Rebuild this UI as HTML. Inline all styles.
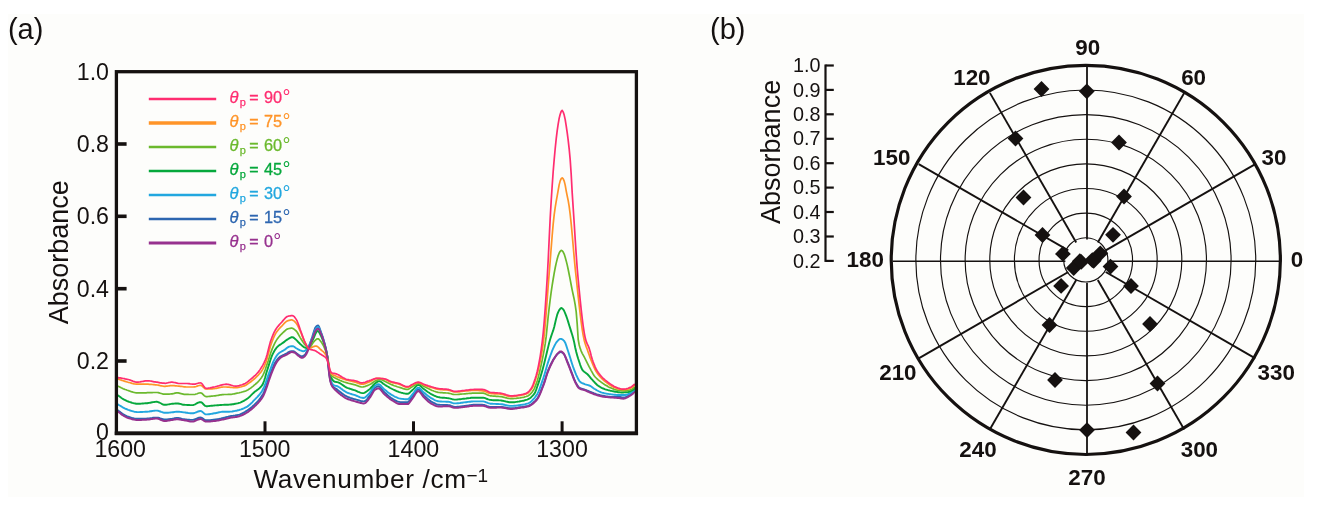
<!DOCTYPE html>
<html><head><meta charset="utf-8"><title>Figure</title>
<style>html,body{margin:0;padding:0;background:#fff;}svg{display:block;will-change:transform;}</style>
</head><body>
<svg width="1323" height="510" viewBox="0 0 1323 510" font-family="Liberation Sans, sans-serif">
<rect x="0" y="0" width="1323" height="510" fill="#ffffff"/>
<rect x="8" y="14" width="1296" height="483" fill="#fdfdfb"/>
<text x="7.9" y="39.0" font-size="29" fill="#151110">(a)</text>
<g fill="none" stroke-linejoin="round" stroke-linecap="round">
<path d="M118.2,410.6 L119.2,411.4 L120.2,412.1 L121.2,412.9 L122.2,413.6 L123.2,414.2 L124.2,414.8 L125.2,415.4 L126.2,415.8 L127.2,416.3 L128.2,416.6 L129.2,417.0 L130.2,417.3 L131.2,417.7 L132.2,418.0 L133.2,418.2 L134.2,418.5 L135.2,418.6 L136.2,418.8 L137.2,418.8 L138.2,418.8 L139.2,418.8 L140.2,418.8 L141.2,418.8 L142.2,418.7 L143.2,418.7 L144.2,418.7 L145.2,418.6 L146.2,418.6 L147.2,418.5 L148.2,418.5 L149.2,418.4 L150.2,418.2 L151.2,418.1 L152.2,418.0 L153.2,417.8 L154.2,417.7 L155.2,417.6 L156.2,417.6 L157.2,417.6 L158.2,417.8 L159.2,418.0 L160.2,418.4 L161.2,418.7 L162.2,419.0 L163.2,419.3 L164.2,419.5 L165.2,419.5 L166.2,419.5 L167.2,419.4 L168.2,419.3 L169.2,419.2 L170.2,419.0 L171.2,418.9 L172.2,418.8 L173.2,418.6 L174.2,418.3 L175.2,418.1 L176.2,417.9 L177.2,417.9 L178.2,417.9 L179.2,418.1 L180.2,418.3 L181.2,418.6 L182.2,418.9 L183.2,419.1 L184.2,419.2 L185.2,419.4 L186.2,419.5 L187.2,419.6 L188.2,419.7 L189.2,419.8 L190.2,419.9 L191.2,419.9 L192.2,419.9 L193.2,419.8 L194.2,419.6 L195.2,419.2 L196.2,418.8 L197.2,418.4 L198.2,418.0 L199.2,417.6 L200.2,417.5 L201.2,417.6 L202.2,418.1 L203.2,418.8 L204.2,419.6 L205.2,420.1 L206.2,420.3 L207.2,420.3 L208.2,420.3 L209.2,420.2 L210.2,420.1 L211.2,420.0 L212.2,419.9 L213.2,419.8 L214.2,419.7 L215.2,419.5 L216.2,419.4 L217.2,419.2 L218.2,419.1 L219.2,418.9 L220.2,418.7 L221.2,418.5 L222.2,418.2 L223.2,418.0 L224.2,417.8 L225.2,417.5 L226.2,417.2 L227.2,416.9 L228.2,416.7 L229.2,416.4 L230.2,416.2 L231.2,416.0 L232.2,415.9 L233.2,415.8 L234.2,415.6 L235.2,415.5 L236.2,415.3 L237.2,415.2 L238.2,414.9 L239.2,414.7 L240.2,414.4 L241.2,413.9 L242.2,413.5 L243.2,412.9 L244.2,412.4 L245.2,411.8 L246.2,411.1 L247.2,410.5 L248.2,409.9 L249.2,409.1 L250.2,408.4 L251.2,407.5 L252.2,406.7 L253.2,405.8 L254.2,404.9 L255.2,403.9 L256.2,402.9 L257.2,401.9 L258.2,400.8 L259.2,399.6 L260.2,398.3 L261.2,396.9 L262.2,395.4 L263.2,393.6 L264.2,391.3 L265.2,388.7 L266.2,385.9 L267.2,382.9 L268.2,379.8 L269.2,376.9 L270.2,374.0 L271.2,371.4 L272.2,369.0 L273.2,366.6 L274.2,364.3 L275.2,362.5 L276.2,361.0 L277.2,359.6 L278.2,358.4 L279.2,357.4 L280.2,356.6 L281.2,356.0 L282.2,355.5 L283.2,355.0 L284.2,354.6 L285.2,354.1 L286.2,353.7 L287.2,353.1 L288.2,352.4 L289.2,351.8 L290.2,351.4 L291.2,351.3 L292.2,351.3 L293.2,351.3 L294.2,351.5 L295.2,352.2 L296.2,353.1 L297.2,353.9 L298.2,354.5 L299.2,355.2 L300.2,355.9 L301.2,356.3 L302.2,356.4 L303.2,356.0 L304.2,355.3 L305.2,354.3 L306.2,352.8 L307.2,350.6 L308.2,348.3 L309.2,345.8 L310.2,343.0 L311.2,340.0 L312.2,337.1 L313.2,333.9 L314.2,330.6 L315.2,327.9 L316.2,326.5 L317.2,325.6 L318.2,325.4 L319.2,327.1 L320.2,329.9 L321.2,332.7 L322.2,335.5 L323.2,338.7 L324.2,342.2 L325.2,346.0 L326.2,350.3 L327.2,355.6 L328.2,363.5 L329.2,373.6 L330.2,380.0 L331.2,383.7 L332.2,385.5 L333.2,386.7 L334.2,387.6 L335.2,388.3 L336.2,388.9 L337.2,389.6 L338.2,390.4 L339.2,391.2 L340.2,392.0 L341.2,392.8 L342.2,393.6 L343.2,394.3 L344.2,395.0 L345.2,395.7 L346.2,396.2 L347.2,396.7 L348.2,397.1 L349.2,397.5 L350.2,397.9 L351.2,398.2 L352.2,398.5 L353.2,398.8 L354.2,399.1 L355.2,399.3 L356.2,399.6 L357.2,399.9 L358.2,400.2 L359.2,400.5 L360.2,400.8 L361.2,401.1 L362.2,401.2 L363.2,401.4 L364.2,401.4 L365.2,401.0 L366.2,400.2 L367.2,399.0 L368.2,397.7 L369.2,396.4 L370.2,395.1 L371.2,393.4 L372.2,391.6 L373.2,389.9 L374.2,388.5 L375.2,387.6 L376.2,387.0 L377.2,386.5 L378.2,386.3 L379.2,386.5 L380.2,387.2 L381.2,388.3 L382.2,389.6 L383.2,390.9 L384.2,392.0 L385.2,392.9 L386.2,393.8 L387.2,394.7 L388.2,395.6 L389.2,396.5 L390.2,397.3 L391.2,398.0 L392.2,398.6 L393.2,399.2 L394.2,399.8 L395.2,400.3 L396.2,400.8 L397.2,401.3 L398.2,401.7 L399.2,401.9 L400.2,402.1 L401.2,402.1 L402.2,402.1 L403.2,402.1 L404.2,402.1 L405.2,402.1 L406.2,402.1 L407.2,402.1 L408.2,401.8 L409.2,400.9 L410.2,399.6 L411.2,398.1 L412.2,396.7 L413.2,395.4 L414.2,394.0 L415.2,392.5 L416.2,391.0 L417.2,389.9 L418.2,389.4 L419.2,389.7 L420.2,390.6 L421.2,391.8 L422.2,393.2 L423.2,394.5 L424.2,395.6 L425.2,396.5 L426.2,397.5 L427.2,398.4 L428.2,399.3 L429.2,400.1 L430.2,400.9 L431.2,401.6 L432.2,402.1 L433.2,402.7 L434.2,403.2 L435.2,403.7 L436.2,404.2 L437.2,404.5 L438.2,404.7 L439.2,404.8 L440.2,404.9 L441.2,404.9 L442.2,404.9 L443.2,405.0 L444.2,405.0 L445.2,405.0 L446.2,405.0 L447.2,405.0 L448.2,405.1 L449.2,405.2 L450.2,405.5 L451.2,405.9 L452.2,406.2 L453.2,406.6 L454.2,406.8 L455.2,406.9 L456.2,406.9 L457.2,406.8 L458.2,406.7 L459.2,406.6 L460.2,406.5 L461.2,406.4 L462.2,406.2 L463.2,406.1 L464.2,406.0 L465.2,405.9 L466.2,405.7 L467.2,405.6 L468.2,405.4 L469.2,405.3 L470.2,405.1 L471.2,405.0 L472.2,404.9 L473.2,404.8 L474.2,404.8 L475.2,404.8 L476.2,404.8 L477.2,404.8 L478.2,404.8 L479.2,404.8 L480.2,404.8 L481.2,404.8 L482.2,404.8 L483.2,404.9 L484.2,405.0 L485.2,405.3 L486.2,405.7 L487.2,406.1 L488.2,406.4 L489.2,406.7 L490.2,406.9 L491.2,406.9 L492.2,406.9 L493.2,406.9 L494.2,406.9 L495.2,406.9 L496.2,406.9 L497.2,406.9 L498.2,406.9 L499.2,406.9 L500.2,406.9 L501.2,406.9 L502.2,407.0 L503.2,407.1 L504.2,407.3 L505.2,407.4 L506.2,407.6 L507.2,407.8 L508.2,408.0 L509.2,408.1 L510.2,408.2 L511.2,408.3 L512.2,408.2 L513.2,408.2 L514.2,408.1 L515.2,408.0 L516.2,407.8 L517.2,407.7 L518.2,407.5 L519.2,407.3 L520.2,407.2 L521.2,407.1 L522.2,407.0 L523.2,406.8 L524.2,406.7 L525.2,406.5 L526.2,406.3 L527.2,406.1 L528.2,405.8 L529.2,405.4 L530.2,404.9 L531.2,404.3 L532.2,403.6 L533.2,402.7 L534.2,401.8 L535.2,400.8 L536.2,399.7 L537.2,398.5 L538.2,396.9 L539.2,394.9 L540.2,392.7 L541.2,390.2 L542.2,387.7 L543.2,385.2 L544.2,382.4 L545.2,379.3 L546.2,376.0 L547.2,372.9 L548.2,370.1 L549.2,367.8 L550.2,365.6 L551.2,363.5 L552.2,361.6 L553.2,359.8 L554.2,358.2 L555.2,356.8 L556.2,355.4 L557.2,354.2 L558.2,353.3 L559.2,352.6 L560.2,352.1 L561.2,352.1 L562.2,352.5 L563.2,353.3 L564.2,354.4 L565.2,356.4 L566.2,358.7 L567.2,361.1 L568.2,363.4 L569.2,366.0 L570.2,368.7 L571.2,371.3 L572.2,373.9 L573.2,376.5 L574.2,379.1 L575.2,381.4 L576.2,383.3 L577.2,385.1 L578.2,386.6 L579.2,387.5 L580.2,388.1 L581.2,388.5 L582.2,388.8 L583.2,389.1 L584.2,389.4 L585.2,389.8 L586.2,390.2 L587.2,390.6 L588.2,391.0 L589.2,391.4 L590.2,391.8 L591.2,392.2 L592.2,392.6 L593.2,393.0 L594.2,393.4 L595.2,393.7 L596.2,394.1 L597.2,394.4 L598.2,394.6 L599.2,394.9 L600.2,395.2 L601.2,395.4 L602.2,395.6 L603.2,395.8 L604.2,396.0 L605.2,396.2 L606.2,396.4 L607.2,396.5 L608.2,396.7 L609.2,396.8 L610.2,396.9 L611.2,397.0 L612.2,397.0 L613.2,397.0 L614.2,396.9 L615.2,396.8 L616.2,396.8 L617.2,396.7 L618.2,396.7 L619.2,396.8 L620.2,397.0 L621.2,397.2 L622.2,397.4 L623.2,397.5 L624.2,397.4 L625.2,397.2 L626.2,396.9 L627.2,396.4 L628.2,395.9 L629.2,395.4 L630.2,394.9 L631.2,394.2 L632.2,393.4 L633.2,392.6 L634.2,391.6" stroke="#2d66b0" stroke-width="1.9"/>
<path d="M118.2,404.5 L119.2,405.2 L120.2,405.8 L121.2,406.4 L122.2,407.0 L123.2,407.6 L124.2,408.1 L125.2,408.6 L126.2,409.0 L127.2,409.4 L128.2,409.8 L129.2,410.1 L130.2,410.5 L131.2,410.8 L132.2,411.1 L133.2,411.4 L134.2,411.7 L135.2,411.9 L136.2,412.0 L137.2,412.1 L138.2,412.1 L139.2,412.1 L140.2,412.0 L141.2,412.0 L142.2,412.0 L143.2,411.9 L144.2,411.9 L145.2,411.8 L146.2,411.7 L147.2,411.7 L148.2,411.6 L149.2,411.5 L150.2,411.3 L151.2,411.2 L152.2,411.0 L153.2,410.9 L154.2,410.7 L155.2,410.6 L156.2,410.6 L157.2,410.6 L158.2,410.8 L159.2,411.1 L160.2,411.5 L161.2,411.9 L162.2,412.2 L163.2,412.5 L164.2,412.7 L165.2,412.8 L166.2,412.8 L167.2,412.7 L168.2,412.7 L169.2,412.6 L170.2,412.5 L171.2,412.4 L172.2,412.3 L173.2,412.2 L174.2,412.0 L175.2,411.9 L176.2,411.7 L177.2,411.7 L178.2,411.7 L179.2,411.8 L180.2,411.9 L181.2,412.0 L182.2,412.1 L183.2,412.3 L184.2,412.4 L185.2,412.5 L186.2,412.7 L187.2,412.8 L188.2,413.0 L189.2,413.1 L190.2,413.2 L191.2,413.3 L192.2,413.3 L193.2,413.3 L194.2,413.0 L195.2,412.7 L196.2,412.3 L197.2,411.9 L198.2,411.5 L199.2,411.2 L200.2,411.0 L201.2,411.1 L202.2,411.7 L203.2,412.6 L204.2,413.5 L205.2,414.2 L206.2,414.4 L207.2,414.4 L208.2,414.3 L209.2,414.2 L210.2,414.0 L211.2,413.9 L212.2,413.7 L213.2,413.5 L214.2,413.3 L215.2,413.2 L216.2,413.0 L217.2,412.8 L218.2,412.5 L219.2,412.3 L220.2,412.1 L221.2,411.9 L222.2,411.8 L223.2,411.7 L224.2,411.7 L225.2,411.7 L226.2,411.7 L227.2,411.7 L228.2,411.7 L229.2,411.7 L230.2,411.6 L231.2,411.6 L232.2,411.5 L233.2,411.3 L234.2,411.1 L235.2,410.9 L236.2,410.7 L237.2,410.5 L238.2,410.2 L239.2,410.0 L240.2,409.7 L241.2,409.4 L242.2,409.0 L243.2,408.6 L244.2,408.2 L245.2,407.7 L246.2,407.2 L247.2,406.6 L248.2,405.9 L249.2,405.1 L250.2,404.2 L251.2,403.3 L252.2,402.3 L253.2,401.2 L254.2,400.2 L255.2,399.2 L256.2,398.1 L257.2,397.1 L258.2,396.0 L259.2,394.9 L260.2,393.6 L261.2,392.2 L262.2,390.7 L263.2,388.8 L264.2,386.6 L265.2,384.0 L266.2,381.2 L267.2,378.3 L268.2,375.4 L269.2,372.6 L270.2,369.9 L271.2,367.2 L272.2,364.4 L273.2,361.9 L274.2,359.9 L275.2,358.1 L276.2,356.4 L277.2,355.0 L278.2,353.9 L279.2,353.0 L280.2,352.3 L281.2,351.7 L282.2,351.1 L283.2,350.6 L284.2,350.0 L285.2,349.4 L286.2,348.6 L287.2,347.8 L288.2,347.1 L289.2,346.6 L290.2,346.4 L291.2,346.2 L292.2,346.1 L293.2,346.2 L294.2,346.8 L295.2,347.5 L296.2,348.2 L297.2,348.8 L298.2,349.4 L299.2,349.9 L300.2,350.4 L301.2,350.7 L302.2,351.0 L303.2,351.2 L304.2,351.1 L305.2,350.5 L306.2,349.6 L307.2,348.4 L308.2,347.1 L309.2,345.2 L310.2,342.8 L311.2,340.3 L312.2,337.9 L313.2,335.3 L314.2,332.5 L315.2,330.1 L316.2,328.4 L317.2,327.3 L318.2,327.0 L319.2,328.4 L320.2,330.9 L321.2,333.4 L322.2,336.0 L323.2,338.9 L324.2,342.3 L325.2,346.0 L326.2,350.3 L327.2,355.6 L328.2,363.2 L329.2,372.7 L330.2,378.2 L331.2,381.3 L332.2,383.6 L333.2,384.9 L334.2,385.4 L335.2,385.7 L336.2,385.9 L337.2,386.2 L338.2,386.7 L339.2,387.3 L340.2,387.9 L341.2,388.7 L342.2,389.4 L343.2,390.2 L344.2,390.9 L345.2,391.5 L346.2,392.1 L347.2,392.6 L348.2,393.0 L349.2,393.3 L350.2,393.7 L351.2,394.0 L352.2,394.3 L353.2,394.6 L354.2,394.9 L355.2,395.2 L356.2,395.6 L357.2,396.0 L358.2,396.5 L359.2,396.9 L360.2,397.3 L361.2,397.6 L362.2,397.8 L363.2,398.0 L364.2,397.8 L365.2,397.3 L366.2,396.5 L367.2,395.5 L368.2,394.5 L369.2,393.5 L370.2,392.2 L371.2,390.7 L372.2,389.1 L373.2,387.6 L374.2,386.3 L375.2,385.5 L376.2,385.0 L377.2,384.5 L378.2,384.2 L379.2,384.4 L380.2,385.0 L381.2,386.0 L382.2,387.2 L383.2,388.3 L384.2,389.2 L385.2,390.0 L386.2,390.8 L387.2,391.7 L388.2,392.5 L389.2,393.2 L390.2,393.9 L391.2,394.6 L392.2,395.2 L393.2,395.7 L394.2,396.3 L395.2,396.8 L396.2,397.2 L397.2,397.7 L398.2,398.1 L399.2,398.4 L400.2,398.6 L401.2,398.8 L402.2,398.9 L403.2,399.0 L404.2,399.1 L405.2,399.2 L406.2,399.3 L407.2,399.3 L408.2,399.1 L409.2,398.3 L410.2,397.2 L411.2,395.9 L412.2,394.6 L413.2,393.4 L414.2,392.1 L415.2,390.6 L416.2,389.2 L417.2,388.1 L418.2,387.7 L419.2,387.9 L420.2,388.6 L421.2,389.6 L422.2,390.8 L423.2,391.9 L424.2,392.8 L425.2,393.6 L426.2,394.4 L427.2,395.3 L428.2,396.1 L429.2,396.8 L430.2,397.5 L431.2,398.2 L432.2,398.7 L433.2,399.2 L434.2,399.8 L435.2,400.3 L436.2,400.7 L437.2,401.0 L438.2,401.3 L439.2,401.4 L440.2,401.5 L441.2,401.5 L442.2,401.6 L443.2,401.6 L444.2,401.6 L445.2,401.6 L446.2,401.7 L447.2,401.7 L448.2,401.8 L449.2,401.9 L450.2,402.2 L451.2,402.5 L452.2,402.9 L453.2,403.2 L454.2,403.4 L455.2,403.4 L456.2,403.4 L457.2,403.3 L458.2,403.2 L459.2,403.1 L460.2,403.0 L461.2,402.8 L462.2,402.7 L463.2,402.5 L464.2,402.4 L465.2,402.3 L466.2,402.2 L467.2,402.0 L468.2,401.9 L469.2,401.8 L470.2,401.7 L471.2,401.5 L472.2,401.5 L473.2,401.4 L474.2,401.4 L475.2,401.4 L476.2,401.4 L477.2,401.4 L478.2,401.4 L479.2,401.4 L480.2,401.4 L481.2,401.4 L482.2,401.4 L483.2,401.4 L484.2,401.6 L485.2,401.9 L486.2,402.3 L487.2,402.7 L488.2,403.1 L489.2,403.4 L490.2,403.7 L491.2,403.8 L492.2,403.8 L493.2,403.9 L494.2,403.9 L495.2,403.9 L496.2,404.0 L497.2,404.0 L498.2,404.0 L499.2,404.1 L500.2,404.1 L501.2,404.2 L502.2,404.3 L503.2,404.5 L504.2,404.7 L505.2,405.0 L506.2,405.2 L507.2,405.4 L508.2,405.6 L509.2,405.8 L510.2,405.9 L511.2,405.9 L512.2,405.9 L513.2,405.9 L514.2,405.8 L515.2,405.7 L516.2,405.6 L517.2,405.4 L518.2,405.3 L519.2,405.1 L520.2,405.0 L521.2,404.9 L522.2,404.7 L523.2,404.6 L524.2,404.4 L525.2,404.2 L526.2,403.9 L527.2,403.6 L528.2,403.3 L529.2,402.8 L530.2,402.2 L531.2,401.4 L532.2,400.5 L533.2,399.4 L534.2,398.3 L535.2,397.0 L536.2,395.6 L537.2,394.2 L538.2,392.2 L539.2,389.9 L540.2,387.2 L541.2,384.4 L542.2,381.4 L543.2,378.5 L544.2,375.4 L545.2,372.0 L546.2,368.5 L547.2,365.1 L548.2,361.9 L549.2,358.9 L550.2,356.0 L551.2,353.3 L552.2,350.7 L553.2,348.4 L554.2,346.3 L555.2,344.4 L556.2,342.6 L557.2,341.3 L558.2,340.3 L559.2,339.4 L560.2,338.9 L561.2,338.9 L562.2,339.3 L563.2,340.1 L564.2,341.0 L565.2,342.7 L566.2,345.4 L567.2,348.5 L568.2,351.5 L569.2,354.6 L570.2,357.8 L571.2,361.1 L572.2,364.2 L573.2,367.1 L574.2,369.8 L575.2,372.4 L576.2,374.8 L577.2,376.9 L578.2,379.1 L579.2,380.8 L580.2,381.9 L581.2,382.6 L582.2,383.1 L583.2,383.5 L584.2,383.9 L585.2,384.3 L586.2,384.6 L587.2,384.9 L588.2,385.2 L589.2,385.5 L590.2,385.9 L591.2,386.5 L592.2,387.2 L593.2,388.0 L594.2,388.7 L595.2,389.3 L596.2,389.9 L597.2,390.5 L598.2,391.0 L599.2,391.5 L600.2,392.0 L601.2,392.4 L602.2,392.7 L603.2,392.9 L604.2,393.2 L605.2,393.4 L606.2,393.6 L607.2,393.8 L608.2,393.9 L609.2,394.1 L610.2,394.2 L611.2,394.4 L612.2,394.5 L613.2,394.6 L614.2,394.7 L615.2,394.8 L616.2,394.9 L617.2,395.0 L618.2,395.0 L619.2,395.0 L620.2,395.0 L621.2,395.0 L622.2,395.0 L623.2,395.0 L624.2,395.0 L625.2,395.0 L626.2,394.8 L627.2,394.5 L628.2,394.1 L629.2,393.7 L630.2,393.2 L631.2,392.6 L632.2,392.0 L633.2,391.2 L634.2,390.4" stroke="#22a7df" stroke-width="1.9"/>
<path d="M118.2,395.5 L119.2,396.3 L120.2,397.0 L121.2,397.8 L122.2,398.5 L123.2,399.1 L124.2,399.7 L125.2,400.2 L126.2,400.7 L127.2,401.2 L128.2,401.5 L129.2,401.9 L130.2,402.2 L131.2,402.5 L132.2,402.9 L133.2,403.1 L134.2,403.4 L135.2,403.5 L136.2,403.7 L137.2,403.7 L138.2,403.7 L139.2,403.7 L140.2,403.7 L141.2,403.6 L142.2,403.5 L143.2,403.5 L144.2,403.4 L145.2,403.3 L146.2,403.2 L147.2,403.2 L148.2,403.0 L149.2,402.9 L150.2,402.7 L151.2,402.5 L152.2,402.3 L153.2,402.1 L154.2,402.0 L155.2,401.9 L156.2,401.8 L157.2,401.8 L158.2,402.1 L159.2,402.5 L160.2,403.0 L161.2,403.5 L162.2,404.1 L163.2,404.5 L164.2,404.8 L165.2,404.8 L166.2,404.7 L167.2,404.6 L168.2,404.4 L169.2,404.3 L170.2,404.1 L171.2,403.9 L172.2,403.8 L173.2,403.7 L174.2,403.6 L175.2,403.5 L176.2,403.5 L177.2,403.4 L178.2,403.5 L179.2,403.7 L180.2,403.9 L181.2,404.2 L182.2,404.5 L183.2,404.7 L184.2,404.8 L185.2,404.9 L186.2,404.9 L187.2,405.0 L188.2,405.0 L189.2,405.0 L190.2,405.1 L191.2,405.1 L192.2,405.1 L193.2,405.0 L194.2,404.7 L195.2,404.3 L196.2,403.7 L197.2,403.2 L198.2,402.7 L199.2,402.3 L200.2,402.1 L201.2,402.2 L202.2,402.9 L203.2,404.0 L204.2,405.1 L205.2,405.9 L206.2,406.2 L207.2,406.2 L208.2,406.1 L209.2,406.0 L210.2,405.9 L211.2,405.8 L212.2,405.7 L213.2,405.6 L214.2,405.5 L215.2,405.4 L216.2,405.4 L217.2,405.3 L218.2,405.2 L219.2,405.1 L220.2,405.0 L221.2,405.0 L222.2,404.9 L223.2,404.9 L224.2,404.8 L225.2,404.8 L226.2,404.7 L227.2,404.7 L228.2,404.7 L229.2,404.6 L230.2,404.5 L231.2,404.5 L232.2,404.3 L233.2,404.2 L234.2,404.0 L235.2,403.8 L236.2,403.6 L237.2,403.4 L238.2,403.2 L239.2,402.9 L240.2,402.6 L241.2,402.2 L242.2,401.7 L243.2,401.2 L244.2,400.6 L245.2,400.0 L246.2,399.4 L247.2,398.7 L248.2,398.0 L249.2,397.1 L250.2,396.2 L251.2,395.2 L252.2,394.2 L253.2,393.2 L254.2,392.3 L255.2,391.4 L256.2,390.7 L257.2,389.9 L258.2,389.2 L259.2,388.4 L260.2,387.5 L261.2,386.4 L262.2,385.2 L263.2,383.3 L264.2,380.5 L265.2,377.2 L266.2,373.6 L267.2,370.2 L268.2,367.1 L269.2,363.9 L270.2,360.6 L271.2,357.7 L272.2,355.2 L273.2,353.1 L274.2,351.2 L275.2,349.6 L276.2,348.2 L277.2,347.0 L278.2,346.1 L279.2,345.3 L280.2,344.6 L281.2,344.0 L282.2,343.3 L283.2,342.6 L284.2,341.9 L285.2,341.1 L286.2,340.3 L287.2,339.6 L288.2,339.0 L289.2,338.4 L290.2,337.8 L291.2,337.3 L292.2,337.1 L293.2,337.4 L294.2,338.1 L295.2,339.0 L296.2,339.9 L297.2,340.9 L298.2,342.0 L299.2,343.0 L300.2,344.0 L301.2,344.9 L302.2,345.8 L303.2,346.6 L304.2,347.3 L305.2,347.7 L306.2,347.9 L307.2,348.0 L308.2,348.1 L309.2,347.5 L310.2,345.8 L311.2,343.5 L312.2,341.1 L313.2,339.1 L314.2,336.8 L315.2,334.4 L316.2,332.3 L317.2,331.0 L318.2,331.1 L319.2,332.4 L320.2,334.4 L321.2,336.3 L322.2,338.6 L323.2,341.2 L324.2,344.1 L325.2,347.3 L326.2,351.2 L327.2,355.7 L328.2,362.1 L329.2,370.2 L330.2,375.5 L331.2,377.7 L332.2,379.4 L333.2,380.7 L334.2,381.5 L335.2,381.9 L336.2,382.0 L337.2,382.1 L338.2,382.4 L339.2,382.8 L340.2,383.4 L341.2,384.0 L342.2,384.7 L343.2,385.4 L344.2,386.1 L345.2,386.8 L346.2,387.3 L347.2,387.8 L348.2,388.2 L349.2,388.5 L350.2,388.8 L351.2,389.1 L352.2,389.5 L353.2,389.8 L354.2,390.1 L355.2,390.4 L356.2,390.8 L357.2,391.3 L358.2,391.8 L359.2,392.2 L360.2,392.6 L361.2,392.9 L362.2,393.1 L363.2,393.1 L364.2,392.8 L365.2,392.4 L366.2,391.7 L367.2,391.0 L368.2,390.2 L369.2,389.5 L370.2,388.6 L371.2,387.5 L372.2,386.4 L373.2,385.2 L374.2,384.1 L375.2,383.2 L376.2,382.6 L377.2,381.9 L378.2,381.4 L379.2,381.2 L380.2,381.4 L381.2,382.0 L382.2,382.8 L383.2,383.7 L384.2,384.3 L385.2,385.0 L386.2,385.6 L387.2,386.2 L388.2,386.8 L389.2,387.4 L390.2,388.0 L391.2,388.5 L392.2,389.0 L393.2,389.5 L394.2,390.0 L395.2,390.4 L396.2,390.9 L397.2,391.3 L398.2,391.7 L399.2,392.1 L400.2,392.4 L401.2,392.7 L402.2,392.9 L403.2,393.2 L404.2,393.4 L405.2,393.6 L406.2,393.8 L407.2,393.8 L408.2,393.7 L409.2,393.1 L410.2,392.2 L411.2,391.2 L412.2,390.3 L413.2,389.4 L414.2,388.4 L415.2,387.2 L416.2,386.1 L417.2,385.3 L418.2,384.9 L419.2,385.1 L420.2,385.7 L421.2,386.6 L422.2,387.6 L423.2,388.5 L424.2,389.3 L425.2,390.0 L426.2,390.7 L427.2,391.5 L428.2,392.2 L429.2,392.8 L430.2,393.5 L431.2,394.1 L432.2,394.6 L433.2,395.1 L434.2,395.6 L435.2,396.0 L436.2,396.5 L437.2,396.8 L438.2,397.1 L439.2,397.3 L440.2,397.5 L441.2,397.6 L442.2,397.7 L443.2,397.8 L444.2,397.8 L445.2,397.9 L446.2,398.0 L447.2,398.1 L448.2,398.2 L449.2,398.4 L450.2,398.6 L451.2,398.9 L452.2,399.2 L453.2,399.4 L454.2,399.6 L455.2,399.6 L456.2,399.6 L457.2,399.5 L458.2,399.4 L459.2,399.3 L460.2,399.2 L461.2,399.1 L462.2,398.9 L463.2,398.8 L464.2,398.7 L465.2,398.6 L466.2,398.5 L467.2,398.3 L468.2,398.2 L469.2,398.1 L470.2,398.0 L471.2,397.8 L472.2,397.8 L473.2,397.7 L474.2,397.7 L475.2,397.7 L476.2,397.7 L477.2,397.7 L478.2,397.7 L479.2,397.7 L480.2,397.7 L481.2,397.7 L482.2,397.7 L483.2,397.7 L484.2,397.9 L485.2,398.2 L486.2,398.6 L487.2,399.0 L488.2,399.4 L489.2,399.7 L490.2,399.9 L491.2,400.0 L492.2,400.1 L493.2,400.2 L494.2,400.2 L495.2,400.2 L496.2,400.2 L497.2,400.3 L498.2,400.3 L499.2,400.4 L500.2,400.4 L501.2,400.5 L502.2,400.7 L503.2,400.8 L504.2,401.1 L505.2,401.3 L506.2,401.6 L507.2,401.8 L508.2,402.0 L509.2,402.2 L510.2,402.3 L511.2,402.3 L512.2,402.3 L513.2,402.3 L514.2,402.2 L515.2,402.1 L516.2,401.9 L517.2,401.8 L518.2,401.6 L519.2,401.5 L520.2,401.3 L521.2,401.1 L522.2,400.9 L523.2,400.7 L524.2,400.5 L525.2,400.2 L526.2,399.9 L527.2,399.6 L528.2,399.2 L529.2,398.7 L530.2,398.0 L531.2,397.2 L532.2,396.2 L533.2,395.1 L534.2,393.9 L535.2,392.2 L536.2,389.6 L537.2,386.8 L538.2,383.9 L539.2,380.9 L540.2,377.7 L541.2,374.4 L542.2,370.9 L543.2,367.3 L544.2,363.4 L545.2,359.3 L546.2,355.2 L547.2,351.1 L548.2,346.9 L549.2,342.8 L550.2,339.2 L551.2,336.1 L552.2,333.3 L553.2,330.4 L554.2,327.0 L555.2,322.8 L556.2,318.4 L557.2,314.7 L558.2,312.1 L559.2,310.1 L560.2,308.8 L561.2,308.0 L562.2,308.3 L563.2,309.3 L564.2,311.0 L565.2,313.4 L566.2,315.9 L567.2,318.8 L568.2,321.9 L569.2,325.2 L570.2,328.4 L571.2,331.6 L572.2,334.7 L573.2,338.2 L574.2,342.4 L575.2,347.5 L576.2,351.7 L577.2,355.4 L578.2,358.8 L579.2,361.8 L580.2,364.8 L581.2,367.5 L582.2,369.6 L583.2,370.9 L584.2,371.8 L585.2,372.5 L586.2,373.2 L587.2,374.0 L588.2,375.0 L589.2,376.1 L590.2,377.3 L591.2,378.6 L592.2,379.7 L593.2,380.8 L594.2,381.9 L595.2,383.0 L596.2,384.0 L597.2,385.0 L598.2,385.8 L599.2,386.4 L600.2,387.0 L601.2,387.6 L602.2,388.1 L603.2,388.5 L604.2,388.9 L605.2,389.3 L606.2,389.6 L607.2,389.9 L608.2,390.2 L609.2,390.4 L610.2,390.7 L611.2,390.9 L612.2,391.1 L613.2,391.3 L614.2,391.5 L615.2,391.7 L616.2,391.9 L617.2,392.0 L618.2,392.2 L619.2,392.3 L620.2,392.4 L621.2,392.5 L622.2,392.5 L623.2,392.5 L624.2,392.4 L625.2,392.3 L626.2,392.2 L627.2,392.1 L628.2,392.0 L629.2,391.8 L630.2,391.4 L631.2,390.9 L632.2,390.3 L633.2,389.6 L634.2,388.9" stroke="#06a83c" stroke-width="1.9"/>
<path d="M118.2,386.3 L119.2,386.8 L120.2,387.3 L121.2,387.8 L122.2,388.2 L123.2,388.7 L124.2,389.1 L125.2,389.5 L126.2,389.8 L127.2,390.2 L128.2,390.5 L129.2,390.9 L130.2,391.2 L131.2,391.6 L132.2,391.9 L133.2,392.2 L134.2,392.5 L135.2,392.7 L136.2,392.8 L137.2,392.9 L138.2,392.9 L139.2,392.9 L140.2,392.9 L141.2,392.8 L142.2,392.8 L143.2,392.8 L144.2,392.8 L145.2,392.8 L146.2,392.8 L147.2,392.7 L148.2,392.7 L149.2,392.7 L150.2,392.6 L151.2,392.6 L152.2,392.6 L153.2,392.5 L154.2,392.5 L155.2,392.5 L156.2,392.5 L157.2,392.5 L158.2,392.6 L159.2,392.9 L160.2,393.2 L161.2,393.5 L162.2,393.8 L163.2,394.1 L164.2,394.2 L165.2,394.2 L166.2,394.2 L167.2,394.2 L168.2,394.1 L169.2,394.1 L170.2,394.0 L171.2,393.9 L172.2,393.8 L173.2,393.6 L174.2,393.4 L175.2,393.1 L176.2,392.9 L177.2,392.9 L178.2,392.9 L179.2,393.1 L180.2,393.4 L181.2,393.7 L182.2,393.9 L183.2,394.1 L184.2,394.3 L185.2,394.3 L186.2,394.3 L187.2,394.4 L188.2,394.4 L189.2,394.5 L190.2,394.5 L191.2,394.5 L192.2,394.5 L193.2,394.5 L194.2,394.5 L195.2,394.3 L196.2,394.0 L197.2,393.7 L198.2,393.3 L199.2,393.0 L200.2,392.9 L201.2,393.0 L202.2,393.6 L203.2,394.6 L204.2,395.6 L205.2,396.3 L206.2,396.6 L207.2,396.6 L208.2,396.5 L209.2,396.4 L210.2,396.3 L211.2,396.2 L212.2,396.1 L213.2,396.0 L214.2,395.9 L215.2,395.8 L216.2,395.6 L217.2,395.5 L218.2,395.3 L219.2,395.1 L220.2,394.9 L221.2,394.8 L222.2,394.6 L223.2,394.6 L224.2,394.5 L225.2,394.5 L226.2,394.5 L227.2,394.5 L228.2,394.4 L229.2,394.4 L230.2,394.4 L231.2,394.3 L232.2,394.2 L233.2,394.0 L234.2,393.8 L235.2,393.6 L236.2,393.4 L237.2,393.2 L238.2,393.0 L239.2,392.8 L240.2,392.5 L241.2,392.3 L242.2,392.0 L243.2,391.7 L244.2,391.4 L245.2,391.1 L246.2,390.7 L247.2,390.2 L248.2,389.7 L249.2,389.1 L250.2,388.4 L251.2,387.7 L252.2,386.9 L253.2,386.1 L254.2,385.2 L255.2,384.4 L256.2,383.5 L257.2,382.6 L258.2,381.6 L259.2,380.5 L260.2,379.3 L261.2,378.0 L262.2,376.6 L263.2,374.7 L264.2,372.4 L265.2,369.7 L266.2,366.8 L267.2,363.9 L268.2,361.0 L269.2,357.8 L270.2,354.6 L271.2,351.6 L272.2,348.9 L273.2,346.6 L274.2,344.4 L275.2,342.4 L276.2,340.6 L277.2,339.1 L278.2,337.7 L279.2,336.5 L280.2,335.4 L281.2,334.3 L282.2,333.3 L283.2,332.4 L284.2,331.5 L285.2,330.6 L286.2,329.7 L287.2,329.1 L288.2,328.8 L289.2,328.5 L290.2,328.3 L291.2,328.2 L292.2,328.2 L293.2,328.6 L294.2,329.3 L295.2,330.1 L296.2,331.0 L297.2,332.3 L298.2,334.0 L299.2,335.8 L300.2,337.6 L301.2,339.2 L302.2,340.8 L303.2,342.4 L304.2,343.9 L305.2,345.0 L306.2,346.1 L307.2,347.2 L308.2,347.9 L309.2,348.1 L310.2,347.4 L311.2,345.9 L312.2,344.1 L313.2,342.5 L314.2,341.4 L315.2,340.3 L316.2,339.4 L317.2,338.8 L318.2,338.8 L319.2,339.5 L320.2,340.7 L321.2,342.1 L322.2,343.5 L323.2,345.2 L324.2,347.3 L325.2,349.7 L326.2,352.3 L327.2,355.6 L328.2,360.2 L329.2,368.3 L330.2,374.0 L331.2,375.3 L332.2,376.3 L333.2,377.0 L334.2,377.6 L335.2,378.1 L336.2,378.5 L337.2,379.1 L338.2,379.6 L339.2,380.0 L340.2,380.5 L341.2,380.9 L342.2,381.3 L343.2,381.6 L344.2,382.0 L345.2,382.3 L346.2,382.6 L347.2,382.9 L348.2,383.2 L349.2,383.5 L350.2,383.7 L351.2,383.9 L352.2,384.2 L353.2,384.4 L354.2,384.7 L355.2,384.9 L356.2,385.2 L357.2,385.6 L358.2,386.0 L359.2,386.4 L360.2,386.7 L361.2,386.9 L362.2,387.0 L363.2,386.9 L364.2,386.7 L365.2,386.4 L366.2,386.0 L367.2,385.6 L368.2,385.2 L369.2,384.8 L370.2,384.3 L371.2,383.7 L372.2,383.0 L373.2,382.3 L374.2,381.6 L375.2,381.0 L376.2,380.5 L377.2,380.1 L378.2,379.7 L379.2,379.5 L380.2,379.4 L381.2,379.6 L382.2,380.0 L383.2,380.4 L384.2,380.9 L385.2,381.4 L386.2,381.9 L387.2,382.4 L388.2,382.9 L389.2,383.4 L390.2,384.0 L391.2,384.5 L392.2,384.9 L393.2,385.3 L394.2,385.7 L395.2,386.0 L396.2,386.3 L397.2,386.7 L398.2,387.0 L399.2,387.3 L400.2,387.6 L401.2,387.9 L402.2,388.2 L403.2,388.6 L404.2,388.9 L405.2,389.2 L406.2,389.4 L407.2,389.4 L408.2,389.3 L409.2,388.8 L410.2,388.1 L411.2,387.4 L412.2,386.7 L413.2,386.1 L414.2,385.4 L415.2,384.8 L416.2,384.2 L417.2,383.7 L418.2,383.5 L419.2,383.7 L420.2,384.1 L421.2,384.6 L422.2,385.3 L423.2,385.9 L424.2,386.5 L425.2,387.0 L426.2,387.5 L427.2,388.1 L428.2,388.6 L429.2,389.1 L430.2,389.6 L431.2,390.1 L432.2,390.5 L433.2,390.8 L434.2,391.2 L435.2,391.5 L436.2,391.9 L437.2,392.1 L438.2,392.4 L439.2,392.5 L440.2,392.6 L441.2,392.7 L442.2,392.7 L443.2,392.8 L444.2,392.9 L445.2,392.9 L446.2,393.0 L447.2,393.0 L448.2,393.1 L449.2,393.3 L450.2,393.5 L451.2,393.8 L452.2,394.1 L453.2,394.3 L454.2,394.5 L455.2,394.5 L456.2,394.5 L457.2,394.5 L458.2,394.4 L459.2,394.3 L460.2,394.2 L461.2,394.1 L462.2,394.0 L463.2,394.0 L464.2,393.9 L465.2,393.8 L466.2,393.7 L467.2,393.6 L468.2,393.5 L469.2,393.4 L470.2,393.3 L471.2,393.3 L472.2,393.2 L473.2,393.2 L474.2,393.1 L475.2,393.1 L476.2,393.1 L477.2,393.1 L478.2,393.1 L479.2,393.1 L480.2,393.1 L481.2,393.1 L482.2,393.1 L483.2,393.2 L484.2,393.4 L485.2,393.8 L486.2,394.2 L487.2,394.7 L488.2,395.1 L489.2,395.5 L490.2,395.8 L491.2,395.9 L492.2,396.0 L493.2,396.1 L494.2,396.2 L495.2,396.2 L496.2,396.3 L497.2,396.3 L498.2,396.4 L499.2,396.5 L500.2,396.6 L501.2,396.7 L502.2,396.9 L503.2,397.1 L504.2,397.3 L505.2,397.6 L506.2,397.8 L507.2,398.1 L508.2,398.3 L509.2,398.5 L510.2,398.6 L511.2,398.6 L512.2,398.6 L513.2,398.6 L514.2,398.5 L515.2,398.5 L516.2,398.4 L517.2,398.2 L518.2,398.1 L519.2,398.0 L520.2,397.9 L521.2,397.7 L522.2,397.5 L523.2,397.3 L524.2,397.1 L525.2,396.8 L526.2,396.5 L527.2,396.1 L528.2,395.7 L529.2,395.1 L530.2,394.2 L531.2,393.2 L532.2,392.0 L533.2,390.6 L534.2,388.8 L535.2,386.4 L536.2,383.9 L537.2,380.9 L538.2,377.4 L539.2,373.5 L540.2,369.2 L541.2,364.7 L542.2,360.1 L543.2,355.1 L544.2,349.8 L545.2,343.9 L546.2,336.4 L547.2,326.4 L548.2,316.3 L549.2,307.7 L550.2,299.5 L551.2,291.9 L552.2,285.2 L553.2,279.0 L554.2,273.1 L555.2,267.8 L556.2,263.1 L557.2,259.1 L558.2,255.6 L559.2,253.0 L560.2,251.3 L561.2,250.4 L562.2,250.7 L563.2,252.1 L564.2,254.1 L565.2,257.3 L566.2,260.9 L567.2,264.9 L568.2,269.5 L569.2,274.5 L570.2,279.7 L571.2,285.0 L572.2,290.1 L573.2,294.7 L574.2,299.4 L575.2,304.9 L576.2,311.9 L577.2,324.1 L578.2,339.5 L579.2,345.0 L580.2,348.4 L581.2,351.1 L582.2,353.3 L583.2,355.1 L584.2,356.9 L585.2,358.8 L586.2,360.8 L587.2,362.9 L588.2,364.9 L589.2,366.9 L590.2,368.7 L591.2,370.6 L592.2,372.4 L593.2,374.2 L594.2,375.7 L595.2,377.0 L596.2,378.0 L597.2,379.0 L598.2,379.9 L599.2,380.7 L600.2,381.4 L601.2,382.2 L602.2,382.9 L603.2,383.6 L604.2,384.3 L605.2,384.9 L606.2,385.5 L607.2,386.1 L608.2,386.7 L609.2,387.2 L610.2,387.6 L611.2,388.0 L612.2,388.5 L613.2,388.9 L614.2,389.3 L615.2,389.6 L616.2,389.9 L617.2,390.1 L618.2,390.3 L619.2,390.4 L620.2,390.5 L621.2,390.6 L622.2,390.7 L623.2,390.8 L624.2,390.8 L625.2,390.8 L626.2,390.7 L627.2,390.6 L628.2,390.4 L629.2,390.2 L630.2,389.9 L631.2,389.5 L632.2,388.9 L633.2,388.2 L634.2,387.4" stroke="#6bb92d" stroke-width="1.7"/>
<path d="M118.2,379.0 L119.2,379.4 L120.2,379.8 L121.2,380.1 L122.2,380.5 L123.2,380.8 L124.2,381.1 L125.2,381.4 L126.2,381.7 L127.2,382.0 L128.2,382.3 L129.2,382.5 L130.2,382.8 L131.2,383.1 L132.2,383.4 L133.2,383.6 L134.2,383.9 L135.2,384.0 L136.2,384.2 L137.2,384.2 L138.2,384.2 L139.2,384.2 L140.2,384.2 L141.2,384.2 L142.2,384.2 L143.2,384.2 L144.2,384.2 L145.2,384.2 L146.2,384.2 L147.2,384.2 L148.2,384.2 L149.2,384.3 L150.2,384.3 L151.2,384.4 L152.2,384.5 L153.2,384.6 L154.2,384.7 L155.2,384.8 L156.2,384.9 L157.2,385.0 L158.2,385.1 L159.2,385.3 L160.2,385.6 L161.2,385.8 L162.2,386.0 L163.2,386.2 L164.2,386.3 L165.2,386.3 L166.2,386.2 L167.2,386.1 L168.2,386.0 L169.2,385.8 L170.2,385.7 L171.2,385.6 L172.2,385.6 L173.2,385.6 L174.2,385.7 L175.2,385.8 L176.2,385.9 L177.2,386.0 L178.2,386.1 L179.2,386.2 L180.2,386.3 L181.2,386.4 L182.2,386.5 L183.2,386.7 L184.2,386.8 L185.2,386.9 L186.2,387.0 L187.2,387.0 L188.2,387.0 L189.2,387.0 L190.2,387.0 L191.2,387.0 L192.2,387.0 L193.2,387.0 L194.2,386.9 L195.2,386.8 L196.2,386.5 L197.2,386.1 L198.2,385.8 L199.2,385.5 L200.2,385.3 L201.2,385.5 L202.2,386.1 L203.2,387.0 L204.2,388.0 L205.2,388.8 L206.2,389.0 L207.2,389.0 L208.2,389.0 L209.2,389.0 L210.2,388.9 L211.2,388.8 L212.2,388.8 L213.2,388.7 L214.2,388.6 L215.2,388.5 L216.2,388.4 L217.2,388.2 L218.2,387.9 L219.2,387.7 L220.2,387.5 L221.2,387.2 L222.2,387.1 L223.2,387.0 L224.2,387.0 L225.2,387.0 L226.2,387.0 L227.2,387.1 L228.2,387.2 L229.2,387.2 L230.2,387.3 L231.2,387.4 L232.2,387.5 L233.2,387.6 L234.2,387.6 L235.2,387.7 L236.2,387.7 L237.2,387.6 L238.2,387.4 L239.2,387.3 L240.2,387.0 L241.2,386.8 L242.2,386.5 L243.2,386.2 L244.2,385.9 L245.2,385.4 L246.2,384.9 L247.2,384.3 L248.2,383.6 L249.2,382.9 L250.2,382.2 L251.2,381.5 L252.2,380.7 L253.2,379.9 L254.2,379.0 L255.2,378.1 L256.2,377.1 L257.2,376.1 L258.2,375.1 L259.2,374.0 L260.2,372.9 L261.2,371.7 L262.2,370.1 L263.2,368.3 L264.2,366.3 L265.2,364.0 L266.2,361.5 L267.2,358.3 L268.2,354.6 L269.2,350.7 L270.2,347.1 L271.2,344.1 L272.2,341.3 L273.2,338.6 L274.2,336.3 L275.2,334.3 L276.2,332.6 L277.2,331.2 L278.2,329.9 L279.2,328.7 L280.2,327.6 L281.2,326.6 L282.2,325.6 L283.2,324.5 L284.2,323.4 L285.2,322.4 L286.2,321.6 L287.2,321.0 L288.2,320.6 L289.2,320.3 L290.2,320.1 L291.2,319.9 L292.2,319.9 L293.2,320.4 L294.2,321.1 L295.2,322.1 L296.2,323.2 L297.2,324.7 L298.2,326.7 L299.2,328.9 L300.2,331.2 L301.2,333.4 L302.2,335.9 L303.2,338.4 L304.2,340.8 L305.2,342.7 L306.2,344.6 L307.2,346.4 L308.2,347.7 L309.2,348.1 L310.2,348.0 L311.2,347.7 L312.2,347.3 L313.2,346.8 L314.2,346.4 L315.2,346.2 L316.2,346.1 L317.2,346.4 L318.2,347.1 L319.2,348.1 L320.2,349.1 L321.2,350.0 L322.2,350.9 L323.2,351.7 L324.2,352.7 L325.2,354.0 L326.2,355.5 L327.2,357.8 L328.2,362.1 L329.2,368.4 L330.2,372.4 L331.2,373.5 L332.2,374.3 L333.2,374.9 L334.2,375.4 L335.2,375.8 L336.2,376.2 L337.2,376.7 L338.2,377.1 L339.2,377.5 L340.2,377.9 L341.2,378.3 L342.2,378.6 L343.2,379.0 L344.2,379.3 L345.2,379.6 L346.2,379.9 L347.2,380.2 L348.2,380.5 L349.2,380.7 L350.2,381.0 L351.2,381.2 L352.2,381.4 L353.2,381.7 L354.2,381.9 L355.2,382.2 L356.2,382.5 L357.2,382.9 L358.2,383.3 L359.2,383.6 L360.2,384.0 L361.2,384.2 L362.2,384.2 L363.2,384.1 L364.2,383.9 L365.2,383.6 L366.2,383.2 L367.2,382.8 L368.2,382.4 L369.2,382.0 L370.2,381.6 L371.2,381.0 L372.2,380.4 L373.2,379.8 L374.2,379.2 L375.2,378.7 L376.2,378.4 L377.2,378.3 L378.2,378.3 L379.2,378.4 L380.2,378.5 L381.2,378.6 L382.2,378.7 L383.2,378.9 L384.2,379.0 L385.2,379.3 L386.2,379.8 L387.2,380.3 L388.2,380.9 L389.2,381.4 L390.2,381.9 L391.2,382.3 L392.2,382.6 L393.2,382.8 L394.2,383.0 L395.2,383.3 L396.2,383.5 L397.2,383.7 L398.2,384.0 L399.2,384.3 L400.2,384.6 L401.2,385.1 L402.2,385.5 L403.2,386.0 L404.2,386.5 L405.2,386.9 L406.2,387.1 L407.2,387.2 L408.2,387.1 L409.2,386.7 L410.2,386.2 L411.2,385.5 L412.2,384.9 L413.2,384.5 L414.2,384.0 L415.2,383.5 L416.2,383.1 L417.2,382.7 L418.2,382.6 L419.2,382.7 L420.2,383.0 L421.2,383.6 L422.2,384.1 L423.2,384.6 L424.2,385.1 L425.2,385.4 L426.2,385.8 L427.2,386.1 L428.2,386.5 L429.2,386.8 L430.2,387.1 L431.2,387.4 L432.2,387.7 L433.2,388.0 L434.2,388.3 L435.2,388.6 L436.2,388.9 L437.2,389.1 L438.2,389.3 L439.2,389.5 L440.2,389.6 L441.2,389.6 L442.2,389.7 L443.2,389.8 L444.2,389.8 L445.2,389.9 L446.2,389.9 L447.2,390.0 L448.2,390.1 L449.2,390.3 L450.2,390.6 L451.2,391.0 L452.2,391.4 L453.2,391.7 L454.2,392.0 L455.2,392.0 L456.2,392.0 L457.2,392.0 L458.2,391.9 L459.2,391.8 L460.2,391.6 L461.2,391.5 L462.2,391.4 L463.2,391.2 L464.2,391.1 L465.2,391.0 L466.2,391.0 L467.2,390.9 L468.2,390.8 L469.2,390.7 L470.2,390.6 L471.2,390.5 L472.2,390.5 L473.2,390.4 L474.2,390.4 L475.2,390.4 L476.2,390.4 L477.2,390.5 L478.2,390.5 L479.2,390.6 L480.2,390.6 L481.2,390.7 L482.2,390.8 L483.2,390.9 L484.2,391.2 L485.2,391.5 L486.2,392.0 L487.2,392.4 L488.2,392.9 L489.2,393.2 L490.2,393.5 L491.2,393.6 L492.2,393.7 L493.2,393.7 L494.2,393.8 L495.2,393.8 L496.2,393.9 L497.2,393.9 L498.2,394.0 L499.2,394.0 L500.2,394.1 L501.2,394.2 L502.2,394.4 L503.2,394.7 L504.2,394.9 L505.2,395.3 L506.2,395.6 L507.2,395.9 L508.2,396.1 L509.2,396.4 L510.2,396.5 L511.2,396.6 L512.2,396.6 L513.2,396.5 L514.2,396.4 L515.2,396.3 L516.2,396.1 L517.2,395.9 L518.2,395.7 L519.2,395.6 L520.2,395.4 L521.2,395.2 L522.2,395.0 L523.2,394.8 L524.2,394.6 L525.2,394.3 L526.2,393.9 L527.2,393.5 L528.2,392.8 L529.2,391.8 L530.2,390.7 L531.2,389.4 L532.2,388.0 L533.2,386.0 L534.2,383.4 L535.2,380.6 L536.2,377.6 L537.2,374.2 L538.2,370.2 L539.2,365.9 L540.2,361.2 L541.2,356.0 L542.2,350.1 L543.2,343.4 L544.2,335.5 L545.2,325.0 L546.2,312.6 L547.2,299.2 L548.2,285.8 L549.2,273.2 L550.2,260.8 L551.2,247.8 L552.2,235.2 L553.2,223.9 L554.2,214.7 L555.2,207.5 L556.2,201.3 L557.2,195.8 L558.2,190.2 L559.2,184.6 L560.2,180.9 L561.2,178.7 L562.2,177.8 L563.2,178.9 L564.2,181.1 L565.2,185.1 L566.2,190.8 L567.2,195.9 L568.2,200.7 L569.2,206.6 L570.2,214.5 L571.2,223.9 L572.2,234.7 L573.2,246.2 L574.2,257.6 L575.2,268.3 L576.2,277.7 L577.2,287.1 L578.2,296.4 L579.2,305.5 L580.2,314.2 L581.2,322.2 L582.2,329.3 L583.2,335.4 L584.2,340.2 L585.2,343.7 L586.2,346.6 L587.2,349.3 L588.2,352.2 L589.2,355.0 L590.2,357.9 L591.2,360.5 L592.2,363.0 L593.2,365.5 L594.2,367.7 L595.2,369.8 L596.2,371.5 L597.2,373.1 L598.2,374.5 L599.2,375.7 L600.2,376.9 L601.2,378.0 L602.2,379.0 L603.2,379.9 L604.2,380.8 L605.2,381.6 L606.2,382.4 L607.2,383.1 L608.2,383.8 L609.2,384.5 L610.2,385.2 L611.2,385.8 L612.2,386.4 L613.2,386.9 L614.2,387.4 L615.2,387.8 L616.2,388.1 L617.2,388.5 L618.2,388.8 L619.2,389.1 L620.2,389.3 L621.2,389.5 L622.2,389.6 L623.2,389.7 L624.2,389.7 L625.2,389.5 L626.2,389.4 L627.2,389.1 L628.2,388.9 L629.2,388.5 L630.2,388.2 L631.2,387.8 L632.2,387.2 L633.2,386.4 L634.2,385.6" stroke="#ff9428" stroke-width="1.7"/>
<path d="M118.2,411.7 L119.2,412.5 L120.2,413.3 L121.2,414.1 L122.2,414.9 L123.2,415.5 L124.2,416.2 L125.2,416.7 L126.2,417.2 L127.2,417.6 L128.2,418.0 L129.2,418.3 L130.2,418.6 L131.2,418.9 L132.2,419.2 L133.2,419.4 L134.2,419.6 L135.2,419.8 L136.2,419.9 L137.2,419.9 L138.2,419.9 L139.2,419.9 L140.2,419.9 L141.2,419.9 L142.2,419.8 L143.2,419.8 L144.2,419.8 L145.2,419.7 L146.2,419.7 L147.2,419.6 L148.2,419.6 L149.2,419.4 L150.2,419.3 L151.2,419.1 L152.2,419.0 L153.2,418.8 L154.2,418.7 L155.2,418.6 L156.2,418.6 L157.2,418.6 L158.2,418.8 L159.2,419.1 L160.2,419.5 L161.2,420.0 L162.2,420.4 L163.2,420.8 L164.2,421.0 L165.2,421.0 L166.2,420.9 L167.2,420.8 L168.2,420.6 L169.2,420.4 L170.2,420.2 L171.2,420.0 L172.2,419.9 L173.2,419.7 L174.2,419.5 L175.2,419.4 L176.2,419.3 L177.2,419.2 L178.2,419.3 L179.2,419.4 L180.2,419.5 L181.2,419.7 L182.2,419.9 L183.2,420.0 L184.2,420.2 L185.2,420.4 L186.2,420.6 L187.2,420.8 L188.2,421.0 L189.2,421.2 L190.2,421.4 L191.2,421.5 L192.2,421.6 L193.2,421.5 L194.2,421.2 L195.2,420.8 L196.2,420.4 L197.2,419.9 L198.2,419.5 L199.2,419.2 L200.2,419.0 L201.2,419.1 L202.2,419.5 L203.2,420.2 L204.2,420.9 L205.2,421.4 L206.2,421.6 L207.2,421.6 L208.2,421.5 L209.2,421.5 L210.2,421.4 L211.2,421.3 L212.2,421.2 L213.2,421.1 L214.2,421.0 L215.2,420.9 L216.2,420.8 L217.2,420.6 L218.2,420.4 L219.2,420.2 L220.2,420.0 L221.2,419.8 L222.2,419.6 L223.2,419.4 L224.2,419.2 L225.2,418.9 L226.2,418.7 L227.2,418.4 L228.2,418.2 L229.2,418.0 L230.2,417.8 L231.2,417.6 L232.2,417.5 L233.2,417.3 L234.2,417.2 L235.2,417.1 L236.2,416.9 L237.2,416.7 L238.2,416.5 L239.2,416.3 L240.2,415.9 L241.2,415.6 L242.2,415.1 L243.2,414.7 L244.2,414.1 L245.2,413.6 L246.2,413.0 L247.2,412.4 L248.2,411.8 L249.2,411.0 L250.2,410.3 L251.2,409.4 L252.2,408.6 L253.2,407.7 L254.2,406.7 L255.2,405.8 L256.2,404.9 L257.2,403.9 L258.2,402.8 L259.2,401.7 L260.2,400.5 L261.2,399.2 L262.2,397.7 L263.2,396.0 L264.2,393.8 L265.2,391.4 L266.2,388.6 L267.2,385.8 L268.2,382.8 L269.2,379.8 L270.2,376.9 L271.2,374.2 L272.2,371.7 L273.2,369.2 L274.2,366.8 L275.2,364.7 L276.2,362.9 L277.2,361.4 L278.2,360.1 L279.2,359.0 L280.2,358.0 L281.2,357.3 L282.2,356.7 L283.2,356.1 L284.2,355.7 L285.2,355.3 L286.2,354.8 L287.2,354.3 L288.2,353.7 L289.2,353.1 L290.2,352.5 L291.2,352.1 L292.2,352.0 L293.2,352.2 L294.2,352.4 L295.2,352.9 L296.2,353.8 L297.2,354.8 L298.2,355.6 L299.2,356.3 L300.2,357.1 L301.2,357.7 L302.2,357.8 L303.2,357.5 L304.2,356.7 L305.2,355.7 L306.2,354.4 L307.2,352.3 L308.2,349.8 L309.2,347.4 L310.2,344.7 L311.2,341.8 L312.2,339.1 L313.2,336.5 L314.2,333.9 L315.2,331.6 L316.2,330.0 L317.2,328.9 L318.2,328.6 L319.2,329.7 L320.2,331.9 L321.2,334.1 L322.2,336.6 L323.2,339.7 L324.2,343.0 L325.2,346.8 L326.2,351.1 L327.2,356.3 L328.2,364.3 L329.2,374.3 L330.2,380.8 L331.2,384.3 L332.2,386.3 L333.2,387.7 L334.2,388.9 L335.2,389.9 L336.2,390.8 L337.2,391.7 L338.2,392.6 L339.2,393.4 L340.2,394.3 L341.2,395.1 L342.2,395.8 L343.2,396.5 L344.2,397.2 L345.2,397.8 L346.2,398.3 L347.2,398.8 L348.2,399.2 L349.2,399.6 L350.2,399.9 L351.2,400.2 L352.2,400.5 L353.2,400.8 L354.2,401.1 L355.2,401.4 L356.2,401.7 L357.2,402.0 L358.2,402.3 L359.2,402.6 L360.2,402.9 L361.2,403.1 L362.2,403.3 L363.2,403.4 L364.2,403.4 L365.2,403.1 L366.2,402.2 L367.2,401.1 L368.2,399.8 L369.2,398.4 L370.2,397.1 L371.2,395.5 L372.2,393.7 L373.2,391.9 L374.2,390.5 L375.2,389.6 L376.2,389.1 L377.2,388.6 L378.2,388.4 L379.2,388.5 L380.2,389.3 L381.2,390.4 L382.2,391.7 L383.2,393.0 L384.2,394.0 L385.2,394.9 L386.2,395.8 L387.2,396.7 L388.2,397.5 L389.2,398.3 L390.2,399.1 L391.2,399.8 L392.2,400.4 L393.2,401.0 L394.2,401.6 L395.2,402.2 L396.2,402.8 L397.2,403.3 L398.2,403.7 L399.2,404.0 L400.2,404.1 L401.2,404.1 L402.2,404.1 L403.2,404.1 L404.2,404.1 L405.2,404.1 L406.2,404.1 L407.2,404.1 L408.2,403.9 L409.2,403.0 L410.2,401.7 L411.2,400.2 L412.2,398.8 L413.2,397.5 L414.2,396.0 L415.2,394.3 L416.2,392.8 L417.2,391.6 L418.2,391.1 L419.2,391.4 L420.2,392.3 L421.2,393.7 L422.2,395.2 L423.2,396.6 L424.2,397.6 L425.2,398.6 L426.2,399.6 L427.2,400.5 L428.2,401.4 L429.2,402.3 L430.2,403.0 L431.2,403.7 L432.2,404.2 L433.2,404.7 L434.2,405.2 L435.2,405.6 L436.2,406.0 L437.2,406.3 L438.2,406.4 L439.2,406.5 L440.2,406.5 L441.2,406.4 L442.2,406.4 L443.2,406.3 L444.2,406.3 L445.2,406.3 L446.2,406.2 L447.2,406.2 L448.2,406.2 L449.2,406.3 L450.2,406.5 L451.2,406.9 L452.2,407.2 L453.2,407.5 L454.2,407.8 L455.2,407.8 L456.2,407.8 L457.2,407.8 L458.2,407.7 L459.2,407.6 L460.2,407.4 L461.2,407.3 L462.2,407.2 L463.2,407.1 L464.2,406.9 L465.2,406.8 L466.2,406.7 L467.2,406.5 L468.2,406.4 L469.2,406.2 L470.2,406.1 L471.2,406.0 L472.2,405.9 L473.2,405.8 L474.2,405.8 L475.2,405.8 L476.2,405.8 L477.2,405.8 L478.2,405.8 L479.2,405.8 L480.2,405.8 L481.2,405.8 L482.2,405.8 L483.2,405.8 L484.2,406.0 L485.2,406.3 L486.2,406.6 L487.2,407.0 L488.2,407.4 L489.2,407.6 L490.2,407.8 L491.2,407.8 L492.2,407.8 L493.2,407.8 L494.2,407.8 L495.2,407.7 L496.2,407.7 L497.2,407.6 L498.2,407.6 L499.2,407.6 L500.2,407.6 L501.2,407.6 L502.2,407.7 L503.2,407.8 L504.2,407.9 L505.2,408.1 L506.2,408.3 L507.2,408.5 L508.2,408.7 L509.2,408.8 L510.2,408.9 L511.2,408.9 L512.2,408.9 L513.2,408.8 L514.2,408.7 L515.2,408.6 L516.2,408.4 L517.2,408.2 L518.2,408.1 L519.2,407.9 L520.2,407.8 L521.2,407.6 L522.2,407.5 L523.2,407.4 L524.2,407.2 L525.2,407.0 L526.2,406.9 L527.2,406.6 L528.2,406.4 L529.2,406.0 L530.2,405.5 L531.2,404.9 L532.2,404.2 L533.2,403.4 L534.2,402.5 L535.2,401.6 L536.2,400.5 L537.2,399.3 L538.2,397.7 L539.2,395.8 L540.2,393.5 L541.2,391.1 L542.2,388.5 L543.2,386.0 L544.2,383.2 L545.2,380.1 L546.2,376.8 L547.2,373.7 L548.2,371.0 L549.2,368.6 L550.2,366.3 L551.2,364.2 L552.2,362.2 L553.2,360.3 L554.2,358.6 L555.2,357.0 L556.2,355.5 L557.2,354.1 L558.2,353.1 L559.2,352.1 L560.2,351.4 L561.2,351.4 L562.2,352.0 L563.2,352.9 L564.2,354.4 L565.2,356.6 L566.2,359.2 L567.2,361.9 L568.2,364.3 L569.2,366.9 L570.2,369.5 L571.2,372.1 L572.2,374.7 L573.2,377.3 L574.2,379.9 L575.2,382.2 L576.2,384.1 L577.2,385.9 L578.2,387.4 L579.2,388.3 L580.2,388.8 L581.2,389.2 L582.2,389.5 L583.2,389.7 L584.2,390.0 L585.2,390.4 L586.2,390.8 L587.2,391.3 L588.2,391.7 L589.2,392.2 L590.2,392.6 L591.2,393.0 L592.2,393.4 L593.2,393.8 L594.2,394.2 L595.2,394.5 L596.2,394.9 L597.2,395.2 L598.2,395.5 L599.2,395.8 L600.2,396.0 L601.2,396.3 L602.2,396.5 L603.2,396.7 L604.2,396.8 L605.2,396.9 L606.2,397.0 L607.2,397.1 L608.2,397.2 L609.2,397.3 L610.2,397.4 L611.2,397.5 L612.2,397.5 L613.2,397.6 L614.2,397.7 L615.2,397.8 L616.2,397.8 L617.2,397.9 L618.2,398.0 L619.2,398.1 L620.2,398.3 L621.2,398.5 L622.2,398.6 L623.2,398.7 L624.2,398.6 L625.2,398.3 L626.2,397.9 L627.2,397.4 L628.2,396.8 L629.2,396.2 L630.2,395.7 L631.2,395.0 L632.2,394.2 L633.2,393.4 L634.2,392.4" stroke="#97328f" stroke-width="2.0"/>
<path d="M118.2,377.6 L119.2,377.8 L120.2,377.9 L121.2,378.1 L122.2,378.3 L123.2,378.5 L124.2,378.6 L125.2,378.9 L126.2,379.1 L127.2,379.3 L128.2,379.5 L129.2,379.8 L130.2,380.1 L131.2,380.5 L132.2,380.9 L133.2,381.3 L134.2,381.6 L135.2,381.9 L136.2,382.1 L137.2,382.2 L138.2,382.1 L139.2,382.0 L140.2,381.9 L141.2,381.7 L142.2,381.5 L143.2,381.3 L144.2,381.1 L145.2,380.9 L146.2,380.8 L147.2,380.8 L148.2,380.8 L149.2,380.9 L150.2,381.0 L151.2,381.2 L152.2,381.4 L153.2,381.6 L154.2,381.8 L155.2,381.9 L156.2,382.1 L157.2,382.2 L158.2,382.4 L159.2,382.6 L160.2,382.8 L161.2,382.9 L162.2,383.1 L163.2,383.2 L164.2,383.2 L165.2,383.3 L166.2,383.2 L167.2,383.0 L168.2,382.7 L169.2,382.5 L170.2,382.3 L171.2,382.2 L172.2,382.2 L173.2,382.3 L174.2,382.5 L175.2,382.7 L176.2,382.9 L177.2,383.2 L178.2,383.4 L179.2,383.5 L180.2,383.5 L181.2,383.5 L182.2,383.5 L183.2,383.5 L184.2,383.5 L185.2,383.5 L186.2,383.5 L187.2,383.5 L188.2,383.6 L189.2,383.7 L190.2,383.9 L191.2,384.0 L192.2,384.1 L193.2,384.2 L194.2,384.2 L195.2,384.1 L196.2,383.8 L197.2,383.5 L198.2,383.2 L199.2,383.0 L200.2,382.9 L201.2,383.0 L202.2,384.0 L203.2,385.4 L204.2,386.9 L205.2,388.0 L206.2,388.3 L207.2,388.3 L208.2,388.2 L209.2,388.0 L210.2,387.9 L211.2,387.7 L212.2,387.4 L213.2,387.2 L214.2,387.0 L215.2,386.8 L216.2,386.5 L217.2,386.2 L218.2,386.0 L219.2,385.7 L220.2,385.4 L221.2,385.1 L222.2,384.8 L223.2,384.6 L224.2,384.5 L225.2,384.3 L226.2,384.2 L227.2,384.3 L228.2,384.4 L229.2,384.7 L230.2,384.9 L231.2,385.2 L232.2,385.5 L233.2,385.8 L234.2,386.0 L235.2,386.1 L236.2,386.1 L237.2,386.0 L238.2,385.8 L239.2,385.6 L240.2,385.3 L241.2,385.0 L242.2,384.7 L243.2,384.3 L244.2,383.9 L245.2,383.4 L246.2,382.8 L247.2,382.1 L248.2,381.3 L249.2,380.5 L250.2,379.7 L251.2,378.8 L252.2,378.0 L253.2,377.1 L254.2,376.2 L255.2,375.3 L256.2,374.3 L257.2,373.2 L258.2,372.1 L259.2,370.9 L260.2,369.4 L261.2,367.8 L262.2,366.1 L263.2,364.3 L264.2,362.3 L265.2,360.1 L266.2,357.6 L267.2,354.2 L268.2,350.2 L269.2,346.1 L270.2,342.4 L271.2,339.5 L272.2,336.8 L273.2,334.4 L274.2,332.2 L275.2,330.3 L276.2,328.7 L277.2,327.3 L278.2,326.1 L279.2,324.9 L280.2,323.8 L281.2,322.7 L282.2,321.6 L283.2,320.4 L284.2,319.2 L285.2,318.1 L286.2,317.2 L287.2,316.5 L288.2,316.2 L289.2,316.0 L290.2,315.8 L291.2,315.7 L292.2,315.7 L293.2,315.8 L294.2,316.6 L295.2,317.9 L296.2,319.4 L297.2,321.2 L298.2,323.7 L299.2,326.6 L300.2,329.5 L301.2,332.2 L302.2,335.1 L303.2,337.9 L304.2,340.5 L305.2,342.8 L306.2,344.8 L307.2,346.7 L308.2,348.2 L309.2,349.0 L310.2,349.4 L311.2,349.6 L312.2,349.8 L313.2,350.1 L314.2,350.3 L315.2,350.8 L316.2,351.3 L317.2,351.9 L318.2,352.6 L319.2,353.3 L320.2,354.0 L321.2,354.6 L322.2,355.2 L323.2,355.8 L324.2,356.4 L325.2,357.2 L326.2,358.2 L327.2,360.1 L328.2,363.2 L329.2,366.6 L330.2,370.6 L331.2,372.5 L332.2,373.0 L333.2,373.3 L334.2,373.4 L335.2,373.6 L336.2,373.9 L337.2,374.3 L338.2,374.7 L339.2,375.3 L340.2,375.9 L341.2,376.5 L342.2,377.2 L343.2,377.8 L344.2,378.3 L345.2,378.8 L346.2,379.2 L347.2,379.5 L348.2,379.7 L349.2,379.9 L350.2,380.0 L351.2,380.2 L352.2,380.3 L353.2,380.4 L354.2,380.6 L355.2,380.8 L356.2,381.1 L357.2,381.4 L358.2,381.8 L359.2,382.2 L360.2,382.6 L361.2,382.8 L362.2,382.8 L363.2,382.7 L364.2,382.5 L365.2,382.2 L366.2,381.8 L367.2,381.4 L368.2,381.0 L369.2,380.7 L370.2,380.3 L371.2,380.0 L372.2,379.6 L373.2,379.2 L374.2,378.8 L375.2,378.6 L376.2,378.4 L377.2,378.3 L378.2,378.3 L379.2,378.4 L380.2,378.4 L381.2,378.5 L382.2,378.6 L383.2,378.6 L384.2,378.8 L385.2,379.0 L386.2,379.4 L387.2,379.8 L388.2,380.3 L389.2,380.8 L390.2,381.2 L391.2,381.6 L392.2,381.9 L393.2,382.1 L394.2,382.3 L395.2,382.6 L396.2,382.8 L397.2,383.0 L398.2,383.3 L399.2,383.6 L400.2,383.9 L401.2,384.4 L402.2,384.9 L403.2,385.4 L404.2,385.9 L405.2,386.3 L406.2,386.6 L407.2,386.7 L408.2,386.6 L409.2,386.2 L410.2,385.7 L411.2,385.1 L412.2,384.5 L413.2,384.1 L414.2,383.6 L415.2,383.1 L416.2,382.6 L417.2,382.3 L418.2,382.2 L419.2,382.3 L420.2,382.6 L421.2,383.0 L422.2,383.5 L423.2,384.0 L424.2,384.4 L425.2,384.7 L426.2,385.1 L427.2,385.4 L428.2,385.8 L429.2,386.1 L430.2,386.4 L431.2,386.7 L432.2,387.0 L433.2,387.3 L434.2,387.6 L435.2,387.8 L436.2,388.1 L437.2,388.3 L438.2,388.5 L439.2,388.7 L440.2,388.8 L441.2,388.9 L442.2,388.9 L443.2,389.0 L444.2,389.1 L445.2,389.1 L446.2,389.2 L447.2,389.3 L448.2,389.4 L449.2,389.7 L450.2,390.0 L451.2,390.4 L452.2,390.7 L453.2,391.1 L454.2,391.3 L455.2,391.4 L456.2,391.3 L457.2,391.3 L458.2,391.2 L459.2,391.1 L460.2,391.0 L461.2,390.8 L462.2,390.7 L463.2,390.6 L464.2,390.5 L465.2,390.3 L466.2,390.2 L467.2,390.1 L468.2,390.0 L469.2,389.8 L470.2,389.7 L471.2,389.6 L472.2,389.5 L473.2,389.5 L474.2,389.4 L475.2,389.4 L476.2,389.4 L477.2,389.4 L478.2,389.4 L479.2,389.4 L480.2,389.4 L481.2,389.4 L482.2,389.4 L483.2,389.5 L484.2,389.7 L485.2,390.1 L486.2,390.6 L487.2,391.1 L488.2,391.6 L489.2,392.1 L490.2,392.4 L491.2,392.5 L492.2,392.6 L493.2,392.7 L494.2,392.7 L495.2,392.8 L496.2,392.8 L497.2,392.9 L498.2,393.0 L499.2,393.0 L500.2,393.1 L501.2,393.3 L502.2,393.5 L503.2,393.8 L504.2,394.1 L505.2,394.4 L506.2,394.8 L507.2,395.1 L508.2,395.4 L509.2,395.7 L510.2,395.8 L511.2,395.9 L512.2,395.9 L513.2,395.8 L514.2,395.7 L515.2,395.6 L516.2,395.5 L517.2,395.3 L518.2,395.2 L519.2,395.0 L520.2,394.8 L521.2,394.7 L522.2,394.5 L523.2,394.2 L524.2,394.0 L525.2,393.6 L526.2,393.3 L527.2,392.8 L528.2,392.0 L529.2,391.0 L530.2,389.8 L531.2,388.4 L532.2,386.7 L533.2,384.3 L534.2,381.5 L535.2,378.6 L536.2,375.4 L537.2,371.5 L538.2,367.1 L539.2,362.0 L540.2,356.3 L541.2,349.7 L542.2,342.1 L543.2,333.1 L544.2,321.8 L545.2,308.5 L546.2,293.8 L547.2,278.0 L548.2,260.0 L549.2,238.6 L550.2,218.0 L551.2,200.8 L552.2,185.5 L553.2,171.3 L554.2,159.4 L555.2,148.5 L556.2,138.9 L557.2,130.7 L558.2,123.9 L559.2,118.1 L560.2,114.2 L561.2,111.4 L562.2,110.3 L563.2,112.1 L564.2,115.1 L565.2,119.6 L566.2,125.8 L567.2,132.7 L568.2,140.3 L569.2,149.2 L570.2,159.9 L571.2,174.5 L572.2,192.9 L573.2,208.1 L574.2,223.3 L575.2,239.2 L576.2,254.6 L577.2,268.3 L578.2,279.5 L579.2,290.1 L580.2,300.2 L581.2,309.7 L582.2,318.4 L583.2,326.1 L584.2,332.6 L585.2,337.8 L586.2,341.4 L587.2,343.9 L588.2,345.9 L589.2,348.4 L590.2,351.8 L591.2,355.7 L592.2,359.2 L593.2,362.1 L594.2,364.7 L595.2,367.1 L596.2,369.2 L597.2,370.9 L598.2,372.4 L599.2,373.8 L600.2,375.1 L601.2,376.2 L602.2,377.3 L603.2,378.3 L604.2,379.2 L605.2,380.1 L606.2,380.9 L607.2,381.7 L608.2,382.5 L609.2,383.2 L610.2,383.9 L611.2,384.6 L612.2,385.2 L613.2,385.8 L614.2,386.4 L615.2,386.9 L616.2,387.3 L617.2,387.7 L618.2,388.1 L619.2,388.4 L620.2,388.7 L621.2,389.0 L622.2,389.1 L623.2,389.2 L624.2,389.2 L625.2,389.0 L626.2,388.8 L627.2,388.5 L628.2,388.2 L629.2,387.8 L630.2,387.4 L631.2,386.9 L632.2,386.2 L633.2,385.3 L634.2,384.4" stroke="#ff2d70" stroke-width="1.7"/>
</g>
<rect x="116.4" y="71.7" width="520.0" height="361.6" fill="none" stroke="#151110" stroke-width="3.3"/>
<line x1="114.75" y1="433.35" x2="638.05" y2="433.35" stroke="#151110" stroke-width="3.8"/>
<line x1="265.0" y1="433.3" x2="265.0" y2="421.3" stroke="#151110" stroke-width="3"/>
<line x1="413.5" y1="433.3" x2="413.5" y2="421.3" stroke="#151110" stroke-width="3"/>
<line x1="562.1" y1="433.3" x2="562.1" y2="421.3" stroke="#151110" stroke-width="3"/>
<line x1="116.4" y1="361.0" x2="126.60000000000001" y2="361.0" stroke="#151110" stroke-width="3.6"/>
<line x1="116.4" y1="288.7" x2="126.60000000000001" y2="288.7" stroke="#151110" stroke-width="3.6"/>
<line x1="116.4" y1="216.3" x2="126.60000000000001" y2="216.3" stroke="#151110" stroke-width="3.6"/>
<line x1="116.4" y1="144.0" x2="126.60000000000001" y2="144.0" stroke="#151110" stroke-width="3.6"/>
<text x="120.2" y="456.9" font-size="23.2" text-anchor="middle" fill="#151110">1600</text>
<text x="264.7" y="456.9" font-size="23.2" text-anchor="middle" fill="#151110">1500</text>
<text x="413.4" y="456.9" font-size="23.2" text-anchor="middle" fill="#151110">1400</text>
<text x="562.0" y="456.9" font-size="23.2" text-anchor="middle" fill="#151110">1300</text>
<text x="109.0" y="439.6" font-size="23.2" text-anchor="end" fill="#151110">0</text>
<text x="109.0" y="369.0" font-size="23.2" text-anchor="end" fill="#151110">0.2</text>
<text x="109.0" y="296.7" font-size="23.2" text-anchor="end" fill="#151110">0.4</text>
<text x="109.0" y="224.3" font-size="23.2" text-anchor="end" fill="#151110">0.6</text>
<text x="109.0" y="152.0" font-size="23.2" text-anchor="end" fill="#151110">0.8</text>
<text x="109.0" y="79.7" font-size="23.2" text-anchor="end" fill="#151110">1.0</text>
<text transform="translate(68.2,252.3) rotate(-90)" font-size="27" text-anchor="middle" fill="#151110">Absorbance</text>
<text x="253.4" y="488.3" font-size="26.2" letter-spacing="0.65" fill="#151110">Wavenumber /cm<tspan font-size="19" dx="-0.2" dy="-5.9" letter-spacing="0">−1</tspan></text>
<line x1="148.8" y1="99.0" x2="216.2" y2="99.0" stroke="#ff2d70" stroke-width="2.3"/>
<text x="229.6" y="102.9" font-size="16.5" font-style="italic" fill="#ff2d70" stroke="#ff2d70" stroke-width="0.3">θ</text>
<text x="239.8" y="105.7" font-size="11" fill="#ff2d70" stroke="#ff2d70" stroke-width="0.25">p</text>
<text x="249.2" y="102.9" font-size="16" fill="#ff2d70" stroke="#ff2d70" stroke-width="0.35">=</text>
<text x="264.0" y="102.9" font-size="16.3" fill="#ff2d70" stroke="#ff2d70" stroke-width="0.3">90<tspan dx="0.3" dy="0.8" font-size="20" stroke="none">°</tspan></text>
<line x1="148.8" y1="123.0" x2="216.2" y2="123.0" stroke="#ff9428" stroke-width="3.3"/>
<text x="229.6" y="126.9" font-size="16.5" font-style="italic" fill="#ff9428" stroke="#ff9428" stroke-width="0.3">θ</text>
<text x="239.8" y="129.7" font-size="11" fill="#ff9428" stroke="#ff9428" stroke-width="0.25">p</text>
<text x="249.2" y="126.9" font-size="16" fill="#ff9428" stroke="#ff9428" stroke-width="0.35">=</text>
<text x="264.0" y="126.9" font-size="16.3" fill="#ff9428" stroke="#ff9428" stroke-width="0.3">75<tspan dx="0.3" dy="0.8" font-size="20" stroke="none">°</tspan></text>
<line x1="148.8" y1="147.0" x2="216.2" y2="147.0" stroke="#6bb92d" stroke-width="2.3"/>
<text x="229.6" y="150.9" font-size="16.5" font-style="italic" fill="#6bb92d" stroke="#6bb92d" stroke-width="0.3">θ</text>
<text x="239.8" y="153.7" font-size="11" fill="#6bb92d" stroke="#6bb92d" stroke-width="0.25">p</text>
<text x="249.2" y="150.9" font-size="16" fill="#6bb92d" stroke="#6bb92d" stroke-width="0.35">=</text>
<text x="264.0" y="150.9" font-size="16.3" fill="#6bb92d" stroke="#6bb92d" stroke-width="0.3">60<tspan dx="0.3" dy="0.8" font-size="20" stroke="none">°</tspan></text>
<line x1="148.8" y1="171.0" x2="216.2" y2="171.0" stroke="#06a83c" stroke-width="2.6"/>
<text x="229.6" y="174.9" font-size="16.5" font-style="italic" fill="#06a83c" stroke="#06a83c" stroke-width="0.3">θ</text>
<text x="239.8" y="177.7" font-size="11" fill="#06a83c" stroke="#06a83c" stroke-width="0.25">p</text>
<text x="249.2" y="174.9" font-size="16" fill="#06a83c" stroke="#06a83c" stroke-width="0.35">=</text>
<text x="264.0" y="174.9" font-size="16.3" fill="#06a83c" stroke="#06a83c" stroke-width="0.3">45<tspan dx="0.3" dy="0.8" font-size="20" stroke="none">°</tspan></text>
<line x1="148.8" y1="195.0" x2="216.2" y2="195.0" stroke="#22a7df" stroke-width="2.6"/>
<text x="229.6" y="198.9" font-size="16.5" font-style="italic" fill="#22a7df" stroke="#22a7df" stroke-width="0.3">θ</text>
<text x="239.8" y="201.7" font-size="11" fill="#22a7df" stroke="#22a7df" stroke-width="0.25">p</text>
<text x="249.2" y="198.9" font-size="16" fill="#22a7df" stroke="#22a7df" stroke-width="0.35">=</text>
<text x="264.0" y="198.9" font-size="16.3" fill="#22a7df" stroke="#22a7df" stroke-width="0.3">30<tspan dx="0.3" dy="0.8" font-size="20" stroke="none">°</tspan></text>
<line x1="148.8" y1="219.0" x2="216.2" y2="219.0" stroke="#2d66b0" stroke-width="2.3"/>
<text x="229.6" y="222.9" font-size="16.5" font-style="italic" fill="#2d66b0" stroke="#2d66b0" stroke-width="0.3">θ</text>
<text x="239.8" y="225.7" font-size="11" fill="#2d66b0" stroke="#2d66b0" stroke-width="0.25">p</text>
<text x="249.2" y="222.9" font-size="16" fill="#2d66b0" stroke="#2d66b0" stroke-width="0.35">=</text>
<text x="264.0" y="222.9" font-size="16.3" fill="#2d66b0" stroke="#2d66b0" stroke-width="0.3">15<tspan dx="0.3" dy="0.8" font-size="20" stroke="none">°</tspan></text>
<line x1="148.8" y1="243.0" x2="216.2" y2="243.0" stroke="#97328f" stroke-width="2.8"/>
<text x="229.6" y="246.9" font-size="16.5" font-style="italic" fill="#97328f" stroke="#97328f" stroke-width="0.3">θ</text>
<text x="239.8" y="249.7" font-size="11" fill="#97328f" stroke="#97328f" stroke-width="0.25">p</text>
<text x="249.2" y="246.9" font-size="16" fill="#97328f" stroke="#97328f" stroke-width="0.35">=</text>
<text x="264.0" y="246.9" font-size="16.3" fill="#97328f" stroke="#97328f" stroke-width="0.3">0<tspan dx="0.3" dy="0.8" font-size="20" stroke="none">°</tspan></text>
<text x="710.0" y="38.9" font-size="29" fill="#151110">(b)</text>
<circle cx="1085.8" cy="259.9" r="22.10" fill="none" stroke="#151110" stroke-width="1.15"/>
<circle cx="1085.8" cy="259.9" r="46.74" fill="none" stroke="#151110" stroke-width="1.15"/>
<circle cx="1085.8" cy="259.9" r="71.38" fill="none" stroke="#151110" stroke-width="1.15"/>
<circle cx="1085.8" cy="259.9" r="96.02" fill="none" stroke="#151110" stroke-width="1.15"/>
<circle cx="1085.8" cy="259.9" r="120.66" fill="none" stroke="#151110" stroke-width="1.15"/>
<circle cx="1085.8" cy="259.9" r="145.30" fill="none" stroke="#151110" stroke-width="1.15"/>
<circle cx="1085.8" cy="259.9" r="169.94" fill="none" stroke="#151110" stroke-width="1.15"/>
<circle cx="1085.8" cy="259.9" r="194.58" fill="none" stroke="#151110" stroke-width="3.2"/>
<line x1="1108.6" y1="261.2" x2="1281.3" y2="261.2" stroke="#151110" stroke-width="1.5"/>
<line x1="1105.7" y1="250.4" x2="1255.3" y2="164.1" stroke="#151110" stroke-width="1.9"/>
<line x1="1097.8" y1="242.5" x2="1184.2" y2="92.9" stroke="#151110" stroke-width="1.9"/>
<line x1="1087.0" y1="239.6" x2="1087.0" y2="66.9" stroke="#151110" stroke-width="1.8"/>
<line x1="1076.2" y1="242.5" x2="989.9" y2="92.9" stroke="#151110" stroke-width="1.9"/>
<line x1="1068.3" y1="250.4" x2="918.7" y2="164.1" stroke="#151110" stroke-width="1.9"/>
<line x1="1065.4" y1="261.2" x2="892.7" y2="261.2" stroke="#151110" stroke-width="1.5"/>
<line x1="1068.3" y1="272.0" x2="918.7" y2="358.4" stroke="#151110" stroke-width="1.9"/>
<line x1="1076.2" y1="279.9" x2="989.8" y2="429.5" stroke="#151110" stroke-width="1.9"/>
<line x1="1087.0" y1="282.8" x2="1087.0" y2="455.5" stroke="#151110" stroke-width="1.8"/>
<line x1="1097.8" y1="279.9" x2="1184.2" y2="429.5" stroke="#151110" stroke-width="1.9"/>
<line x1="1105.7" y1="272.0" x2="1255.3" y2="358.4" stroke="#151110" stroke-width="1.9"/>
<path d="M1033.6,89.0 L1041.5,81.1 L1049.4,89.0 L1041.5,96.9 Z" fill="#151110"/>
<path d="M1078.9,91.3 L1086.8,83.4 L1094.7,91.3 L1086.8,99.2 Z" fill="#151110"/>
<path d="M1111.1,142.5 L1119.0,134.6 L1126.9,142.5 L1119.0,150.4 Z" fill="#151110"/>
<path d="M1007.6,138.5 L1015.5,130.6 L1023.4,138.5 L1015.5,146.4 Z" fill="#151110"/>
<path d="M1116.1,196.5 L1124.0,188.6 L1131.9,196.5 L1124.0,204.4 Z" fill="#151110"/>
<path d="M1015.6,197.5 L1023.5,189.6 L1031.4,197.5 L1023.5,205.4 Z" fill="#151110"/>
<path d="M1105.1,234.8 L1113.0,226.9 L1120.9,234.8 L1113.0,242.7 Z" fill="#151110"/>
<path d="M1034.6,235.0 L1042.5,227.1 L1050.4,235.0 L1042.5,242.9 Z" fill="#151110"/>
<path d="M1055.0,253.9 L1062.9,246.0 L1070.8,253.9 L1062.9,261.8 Z" fill="#151110"/>
<path d="M1102.6,266.6 L1110.5,258.7 L1118.4,266.6 L1110.5,274.5 Z" fill="#151110"/>
<path d="M1123.1,286.0 L1131.0,278.1 L1138.9,286.0 L1131.0,293.9 Z" fill="#151110"/>
<path d="M1142.1,324.0 L1150.0,316.1 L1157.9,324.0 L1150.0,331.9 Z" fill="#151110"/>
<path d="M1149.6,383.5 L1157.5,375.6 L1165.4,383.5 L1157.5,391.4 Z" fill="#151110"/>
<path d="M1125.6,432.5 L1133.5,424.6 L1141.4,432.5 L1133.5,440.4 Z" fill="#151110"/>
<path d="M1079.1,430.1 L1087.0,422.2 L1094.9,430.1 L1087.0,438.0 Z" fill="#151110"/>
<path d="M1047.1,380.0 L1055.0,372.1 L1062.9,380.0 L1055.0,387.9 Z" fill="#151110"/>
<path d="M1041.6,325.0 L1049.5,317.1 L1057.4,325.0 L1049.5,332.9 Z" fill="#151110"/>
<path d="M1053.2,285.9 L1061.1,278.0 L1069.0,285.9 L1061.1,293.8 Z" fill="#151110"/>
<path d="M1065.8,268.0 L1073.7,260.1 L1081.6,268.0 L1073.7,275.9 Z" fill="#151110"/>
<path d="M1071.9,261.2 L1079.8,253.3 L1087.7,261.2 L1079.8,269.1 Z" fill="#151110"/>
<path d="M1073.3,261.9 L1081.2,254.0 L1089.1,261.9 L1081.2,269.8 Z" fill="#151110"/>
<path d="M1085.8,260.8 L1093.7,252.9 L1101.6,260.8 L1093.7,268.7 Z" fill="#151110"/>
<path d="M1084.4,260.1 L1092.3,252.2 L1100.2,260.1 L1092.3,268.0 Z" fill="#151110"/>
<path d="M1092.4,253.3 L1100.3,245.4 L1108.2,253.3 L1100.3,261.2 Z" fill="#151110"/>
<text x="1087.8" y="55.4" font-size="22.4" font-weight="bold" text-anchor="middle" fill="#151110">90</text>
<text x="1087" y="485.3" font-size="22.4" font-weight="bold" text-anchor="middle" fill="#151110">270</text>
<text x="1297" y="267.0" font-size="22.4" font-weight="bold" text-anchor="middle" fill="#151110">0</text>
<text x="865.3" y="267.3" font-size="22.4" font-weight="bold" text-anchor="middle" fill="#151110">180</text>
<text x="971.9" y="85.1" font-size="22.4" font-weight="bold" text-anchor="middle" fill="#151110">120</text>
<text x="1193.6" y="85.1" font-size="22.4" font-weight="bold" text-anchor="middle" fill="#151110">60</text>
<text x="891.8" y="165.3" font-size="22.4" font-weight="bold" text-anchor="middle" fill="#151110">150</text>
<text x="1274" y="165.3" font-size="22.4" font-weight="bold" text-anchor="middle" fill="#151110">30</text>
<text x="897.9" y="379.8" font-size="22.4" font-weight="bold" text-anchor="middle" fill="#151110">210</text>
<text x="1276.3" y="379.8" font-size="22.4" font-weight="bold" text-anchor="middle" fill="#151110">330</text>
<text x="978" y="456.7" font-size="22.4" font-weight="bold" text-anchor="middle" fill="#151110">240</text>
<text x="1199.4" y="456.7" font-size="22.4" font-weight="bold" text-anchor="middle" fill="#151110">300</text>
<line x1="825.5" y1="64.5" x2="825.5" y2="261.9" stroke="#151110" stroke-width="2.2"/>
<line x1="825.5" y1="260.9" x2="833.8" y2="260.9" stroke="#151110" stroke-width="2.2"/>
<text x="820.4" y="267.5" font-size="19.8" text-anchor="end" fill="#151110">0.2</text>
<line x1="825.5" y1="236.5" x2="833.8" y2="236.5" stroke="#151110" stroke-width="2.2"/>
<text x="820.4" y="243.1" font-size="19.8" text-anchor="end" fill="#151110">0.3</text>
<line x1="825.5" y1="212.0" x2="833.8" y2="212.0" stroke="#151110" stroke-width="2.2"/>
<text x="820.4" y="218.6" font-size="19.8" text-anchor="end" fill="#151110">0.4</text>
<line x1="825.5" y1="187.6" x2="833.8" y2="187.6" stroke="#151110" stroke-width="2.2"/>
<text x="820.4" y="194.2" font-size="19.8" text-anchor="end" fill="#151110">0.5</text>
<line x1="825.5" y1="163.2" x2="833.8" y2="163.2" stroke="#151110" stroke-width="2.2"/>
<text x="820.4" y="169.8" font-size="19.8" text-anchor="end" fill="#151110">0.6</text>
<line x1="825.5" y1="138.8" x2="833.8" y2="138.8" stroke="#151110" stroke-width="2.2"/>
<text x="820.4" y="145.4" font-size="19.8" text-anchor="end" fill="#151110">0.7</text>
<line x1="825.5" y1="114.3" x2="833.8" y2="114.3" stroke="#151110" stroke-width="2.2"/>
<text x="820.4" y="120.9" font-size="19.8" text-anchor="end" fill="#151110">0.8</text>
<line x1="825.5" y1="89.9" x2="833.8" y2="89.9" stroke="#151110" stroke-width="2.2"/>
<text x="820.4" y="96.5" font-size="19.8" text-anchor="end" fill="#151110">0.9</text>
<line x1="825.5" y1="65.5" x2="833.8" y2="65.5" stroke="#151110" stroke-width="2.2"/>
<text x="820.4" y="72.1" font-size="19.8" text-anchor="end" fill="#151110">1.0</text>
<text transform="translate(779.6,151.9) rotate(-90)" font-size="27" text-anchor="middle" fill="#151110">Absorbance</text>
</svg>
</body></html>
